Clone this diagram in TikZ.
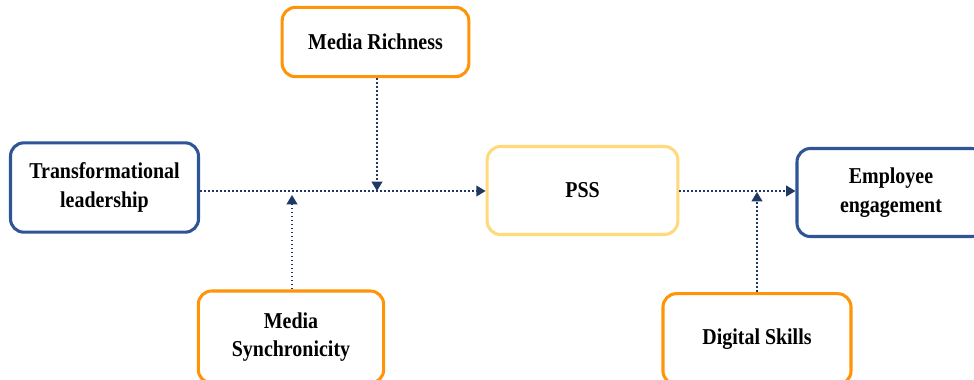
\documentclass[tikz,border=0pt]{standalone}
\usepackage{fontspec}
\setmainfont{Liberation Serif}[FakeStretch=0.88]
\usepackage{tikz}
\usetikzlibrary{arrows.meta}
\definecolor{boxblue}{HTML}{2F5597}
\definecolor{boxorange}{HTML}{FF9408}
\definecolor{boxyellow}{HTML}{FFD97A}
\definecolor{linknavy}{HTML}{1F3864}

\begin{document}
\begin{tikzpicture}[x=0.75pt,y=-0.75pt]
\tikzstyle{every node}+=[inner sep=0pt,align=center,font=\fontsize{17}{21.5}\selectfont\bfseries]
\tikzstyle{varbox}=[rounded corners=10pt,line width=2.3pt,fill=white,text=black]
\tikzstyle{link}=[linknavy,line width=1.4pt,dash pattern=on 1.4pt off 1.6pt,-{Triangle[length=7pt,width=8pt]}]
\useasboundingbox (0,0) rectangle (974,379);
\node [varbox,draw=boxblue,minimum width=141pt,minimum height=67pt] (tl) at (104.5,187.5) {Transformational\\leadership};
\node [varbox,draw=boxyellow,minimum width=143pt,minimum height=66pt] (pss) at (582.5,190.5) {PSS};
\node [varbox,draw=boxblue,minimum width=141pt,minimum height=66pt] (ee) at (891,192.5) {Employee\\engagement};
\node [varbox,draw=boxorange,minimum width=140pt,minimum height=52pt] (mr) at (375.5,42) {Media Richness};
\node [varbox,draw=boxorange,minimum width=139pt,minimum height=69pt] (ms) at (291,337) {Media\\Synchronicity};
\node [varbox,draw=boxorange,minimum width=141pt,minimum height=68pt] (ds) at (757,339) {Digital Skills};
\coordinate (mrtip) at (377,191);
\coordinate (mstip) at (292,195);
\coordinate (dstip) at (757,192);
\draw [link] (tl.east |- 0,191) -- (pss.west |- 0,191);
\draw [link] (pss.east |- 0,191) -- (ee.west |- 0,191);
\draw [link] (mr.south -| mrtip) -- (mrtip);
\draw [link] (ms.north -| mstip) -- (mstip);
\draw [link] (ds.north -| dstip) -- (dstip);
\end{tikzpicture}
\end{document}
